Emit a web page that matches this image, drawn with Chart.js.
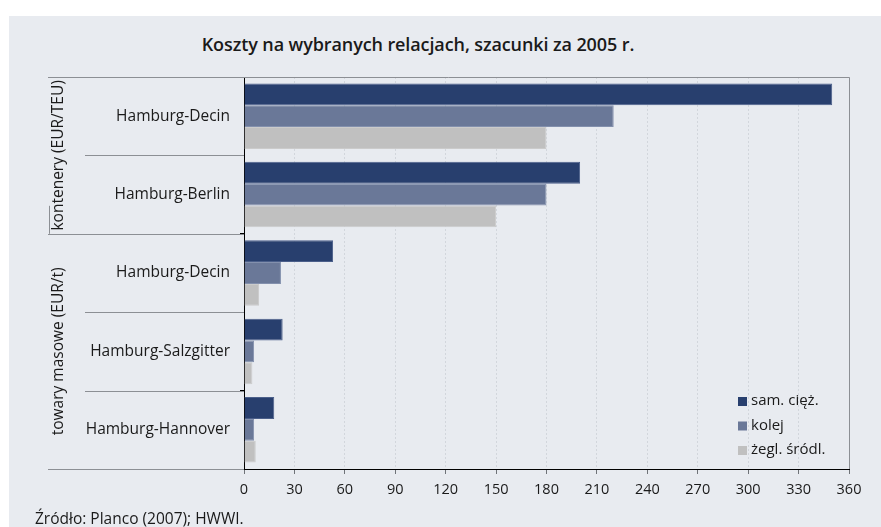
<!DOCTYPE html>
<html>
<head>
<meta charset="utf-8">
<script src="https://cdn.jsdelivr.net/npm/chart.js@4.4.1/dist/chart.umd.min.js"></script>
<style>
  html, body { margin: 0; padding: 0; background: #ffffff; }
  #wrap { position: relative; width: 881px; height: 527px; overflow: hidden; }
  #panel { position: absolute; left: 9px; top: 16px; right: 0; bottom: 0; background: #e8ebf0; }
  #title { position: absolute; left: 0; width: 836px; top: 32px; text-align: center;
           font: 600 18px "Open Sans", sans-serif; letter-spacing: -0.1px; color: #1a1a1a; }
  #source { position: absolute; left: 35px; top: 507px; font: 15.5px "Open Sans", sans-serif; color: #1a1a1a; }
  canvas { position: absolute; left: 0; top: 0; }
</style>
</head>
<body>
<div id="wrap">
  <div id="panel"></div>
  <div id="title">Koszty na wybranych relacjach, szacunki za 2005 r.</div>
  <canvas id="chart" width="881" height="527"></canvas>
  <div id="source">Źródło: Planco (2007); HWWI.</div>
</div>
<script>
// categories (top to bottom) and the two groups they belong to
const categories = ["Hamburg-Decin", "Hamburg-Berlin", "Hamburg-Decin", "Hamburg-Salzgitter", "Hamburg-Hannover"];
const groups = [
    { label: "kontenery (EUR/TEU)", from: 0, to: 1 },
    { label: "towary masowe (EUR/t)", from: 2, to: 4 },
];

// series values
const truckValues = [350, 200, 53, 23, 18];
const railValues = [220, 180, 22, 6, 6];
const inlandValues = [180, 150, 9, 5, 7];

const seriesLabels = ["sam. cięż.", "kolej", "żegl. śródl."];
const xTicks = [0, 30, 60, 90, 120, 150, 180, 210, 240, 270, 300, 330, 360];

const FONT = "Open Sans";
const TEXT = "#1a1a1a";

// separator lines, group labels, frame and legend
const decorPlugin = {
    id: "decor",
    afterDraw(chart) {
        const { ctx, chartArea } = chart;
        const y = chart.scales.y;
        const n = categories.length;
        const boundary = (i) => {
            if (i <= 0) return chartArea.top;
            if (i >= n) return chartArea.bottom;
            return (y.getPixelForValue(i - 1) + y.getPixelForValue(i)) / 2;
        };
        const left = chartArea.left;

        ctx.save();
        ctx.strokeStyle = "#8c8f94";
        ctx.lineWidth = 1;
        // plot frame top + right
        ctx.beginPath();
        ctx.moveTo(48, chartArea.top + 0.5);
        ctx.lineTo(chartArea.right + 0.5, chartArea.top + 0.5);
        ctx.lineTo(chartArea.right + 0.5, chartArea.bottom);
        ctx.stroke();

        // separator lines left of the axis
        for (let i = 1; i <= n; i++) {
            const yy = Math.round(boundary(i)) + 0.5;
            const isGroupEdge = groups.some(g => g.to + 1 === i);
            ctx.beginPath();
            ctx.moveTo(isGroupEdge ? 48 : 85, yy);
            ctx.lineTo(left, yy);
            ctx.stroke();
        }
        // small vertical mark next to first group label
        ctx.beginPath();
        ctx.moveTo(49.5, boundary(2) - 28);
        ctx.lineTo(49.5, boundary(2));
        ctx.stroke();

        // group labels (rotated)
        ctx.fillStyle = TEXT;
        ctx.font = "15.5px '" + FONT + "'";
        ctx.textAlign = "center";
        ctx.textBaseline = "middle";
        groups.forEach(g => {
            const cy = (boundary(g.from) + boundary(g.to + 1)) / 2;
            ctx.save();
            ctx.translate(59, cy);
            ctx.rotate(-Math.PI / 2);
            ctx.fillText(g.label, 0, 0);
            ctx.restore();
        });

        // legend inside the plot, bottom right
        ctx.font = "15px '" + FONT + "'";
        ctx.textAlign = "left";
        chart.data.datasets.forEach((ds, i) => {
            const ly = 401 + i * 24.5;
            ctx.fillStyle = ds.backgroundColor;
            ctx.fillRect(738, ly - 4, 9, 9);
            ctx.fillStyle = TEXT;
            ctx.fillText(ds.label, 751, ly);
        });
        ctx.restore();
    },
};

const ctx = document.getElementById("chart").getContext("2d");
new Chart(ctx, {
    type: "bar",
    data: {
        labels: categories,
        datasets: [
            { label: seriesLabels[0], data: truckValues, backgroundColor: "#283f6e", borderColor: "#4b5f8a", borderWidth: 1 },
            { label: seriesLabels[1], data: railValues, backgroundColor: "#6a7898", borderColor: "#8390ad", borderWidth: 1 },
            { label: seriesLabels[2], data: inlandValues, backgroundColor: "#c0c0c0", borderColor: "#cbcbcb", borderWidth: 1 },
        ],
    },
    options: {
        indexAxis: "y",
        responsive: false,
        animation: false,
        layout: { padding: { left: 0, top: 77, right: 32, bottom: 24 } },
        datasets: { bar: { categoryPercentage: 0.835, barPercentage: 1 } },
        plugins: {
            legend: { display: false },
            title: { display: false },
            tooltip: { enabled: false },
        },
        scales: {
            x: {
                min: 0,
                max: 360,
                afterBuildTicks: (scale) => { scale.ticks = xTicks.map(v => ({ value: v })); },
                afterFit: (scale) => { scale.height = 34; },
                ticks: { color: TEXT, font: { family: FONT, size: 14.5 }, padding: 7, maxRotation: 0 },
                grid: { color: "#d2d6dc", tickColor: "#6f7378", tickLength: 5, tickBorderDash: [1, 0] },
                border: { color: "#000000", width: 1, dash: [2, 2] },
            },
            y: {
                afterFit: (scale) => { scale.width = 244; },
                ticks: { color: TEXT, font: { family: FONT, size: 15.5 }, padding: 10 },
                grid: { offset: true, drawOnChartArea: false, tickLength: 4, color: "#000000" },
                border: { color: "#000000", width: 1 },
            },
        },
    },
    plugins: [decorPlugin],
});
</script>
</body>
</html>
